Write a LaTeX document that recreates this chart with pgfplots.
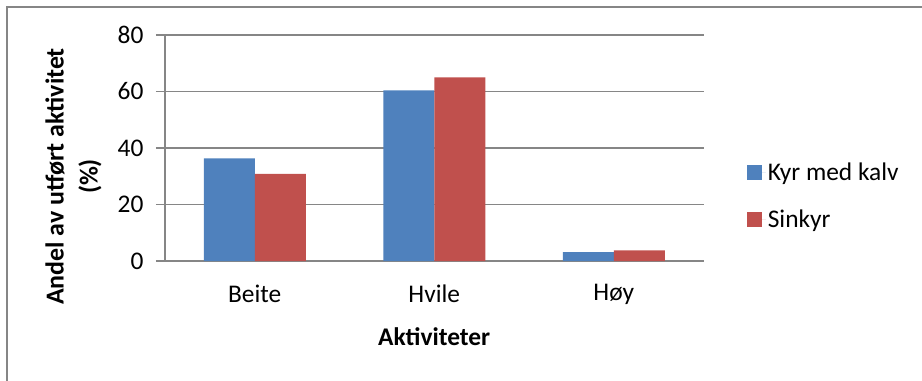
\documentclass[border=0pt]{standalone}
\usepackage{pgfplots}
\pgfplotsset{compat=1.18}
\usepackage{fontspec}
\setmainfont{Carlito}
\definecolor{kblue}{RGB}{79,129,189}
\definecolor{kred}{RGB}{192,80,77}
\definecolor{gridg}{RGB}{134,134,134}
\begin{document}
\begin{tikzpicture}
\useasboundingbox (0,0) rectangle (922bp,-381bp);
\draw[gridg, line width=2bp] (7bp,-382bp) -- (7bp,-7bp) -- (923bp,-7bp);
\begin{axis}[
  at={(165bp,-261bp)}, anchor=south west,
  scale only axis, width=538.5bp, height=226bp,
  ybar=0pt, bar width=51bp,
  xmin=-0.5, xmax=2.5, ymin=0, ymax=80,
  xtick={0,1,2}, xticklabels={Beite,Hvile,Høy},
  ytick={0,20,40,60,80},
  axis x line*=bottom, axis y line*=left,
  axis line style={gridg, line width=1.3bp},
  ymajorgrids, grid style={gridg, line width=1.3bp},
  tick align=outside, major tick length=9bp,
  ytick style={gridg, line width=1.3bp},
  xtick style={draw=none},
  tick label style={font=\fontsize{25.5}{30}\selectfont},
  /pgf/number format/assume math mode=true,
  xticklabel style={yshift=-11bp},
  yticklabel style={xshift=-9bp},
  xlabel={Aktiviteter},
  xlabel style={at={(axis description cs:0.5,-0.336)}, anchor=center, font=\bfseries\fontsize{25.5}{30}\selectfont},
  ylabel={Andel av utført aktivitet\\(\%)},
  ylabel style={at={(axis description cs:-0.17,0.374)}, anchor=center, align=center, font=\bfseries\fontsize{26}{34}\selectfont},
  legend style={at={(rel axis cs:1.08,0.442)}, anchor=north west, draw=none, fill=none, inner sep=0pt,
    font=\fontsize{25.5}{30}\selectfont, row sep=23.5bp},
  legend cell align=left,
  legend image code/.code={\fill[#1] (0bp,-7.5bp) rectangle (15bp,7.5bp); \path (15bp,0bp) -- (19bp,0bp);},
]
\addplot[fill=kblue, draw=none] coordinates {(0,36.3) (1,60.4) (2,3.1)};
\addplot[fill=kred, draw=none] coordinates {(0,30.8) (1,65.0) (2,3.8)};
\legend{Kyr med kalv, Sinkyr}
\end{axis}
\end{tikzpicture}
\end{document}
